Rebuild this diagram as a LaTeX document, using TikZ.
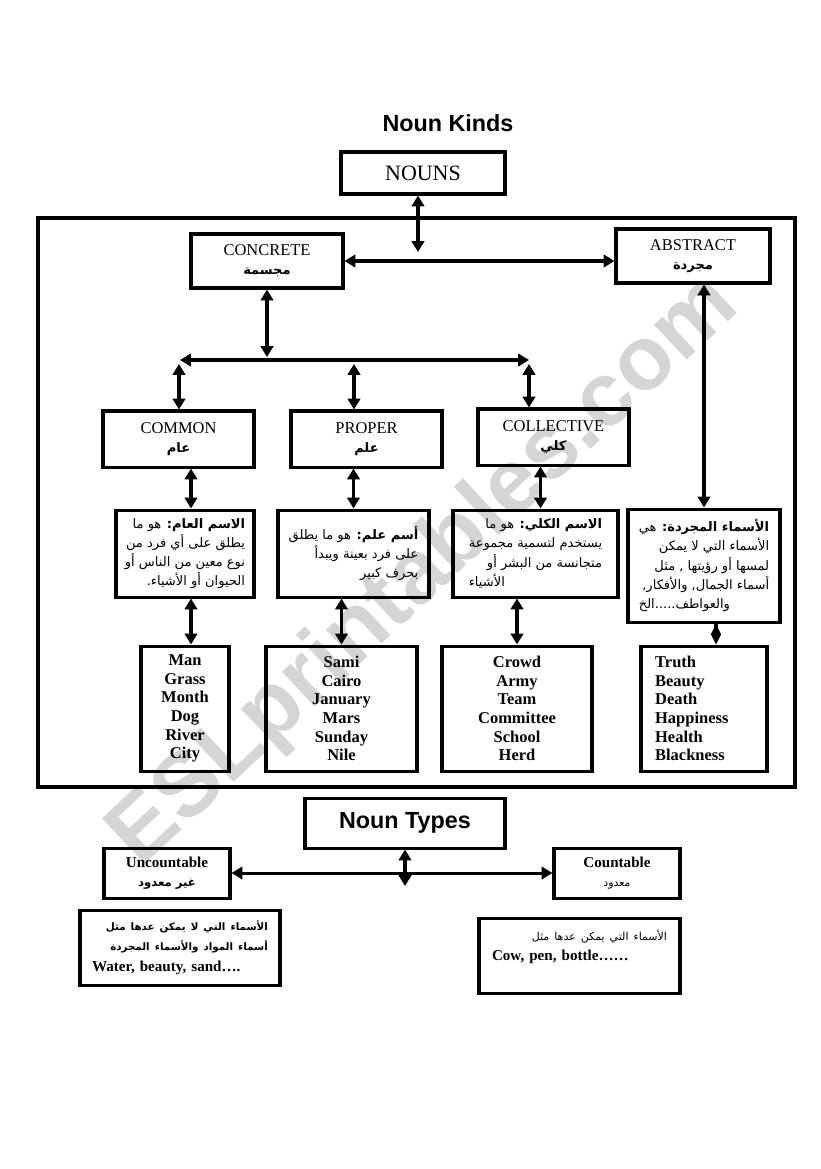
\documentclass[tikz,border=0pt]{standalone}
\usepackage{fontspec}
\setmainfont{Liberation Serif}
\newfontfamily\arialfont{Liberation Sans}
\newfontfamily\arabicfont[Script=Arabic]{DejaVu Sans}
\TeXXeTstate=1
\usetikzlibrary{positioning,arrows.meta,calc}
\newcommand{\arl}[1]{{\arabicfont\beginR #1\endR}}
\newcommand{\arcat}[1]{{\arabicfont\bfseries\fontsize{9.5}{14}\selectfont\beginR #1\endR}}
\tikzset{
  box/.style={draw, line width=2.2pt, inner sep=0pt, align=center},
  boxsize/.style 2 args={minimum width=#1*0.0256cm, minimum height=#2*0.0256cm},
  catbox/.style={box, font=\fontsize{12}{14}\selectfont},
  defbox/.style={box, align=right, font=\arabicfont\fontsize{9.5}{14}\selectfont},
  exbox/.style={box, font=\bfseries\fontsize{12}{13.6}\selectfont},
  headline/.style={font=\arialfont\bfseries\fontsize{17}{19}\selectfont},
  dbl/.style={{Triangle[width=3.2mm,length=2.8mm]}-{Triangle[width=3.2mm,length=2.8mm]}, line width=2.2pt},
  diam/.style={-{Diamond[width=2.6mm,length=5.2mm]}, line width=2.2pt},
  frame/.style={draw, line width=2.4pt}
}
\begin{document}
\begin{tikzpicture}[x=0.0256cm, y=-0.0256cm]
  \useasboundingbox (0,0) rectangle (821,1169);
  % watermark
  \node[rotate=43, font=\arialfont\bfseries\fontsize{66}{70}\selectfont, text=gray!33] (mark) at (425,572) {ESLprintables.com};

  \node[headline] (title) at (448,123) {Noun Kinds};
  \node[box, boxsize={164}{42}, font=\fontsize{16}{18}\selectfont] (nouns) at (423,173) {NOUNS};
  \draw[frame] (38,218) rectangle (795,787);

  % kinds
  \node[catbox, boxsize={152}{54}] (concrete) at (267,261) {CONCRETE\\\arcat{مجسمة}};
  \node[catbox, boxsize={154}{54}] (abstract) at (693,256) {ABSTRACT\\\arcat{مجردة}};
  \node[catbox, boxsize={151}{56}] (common) at (178.5,439) {COMMON\\\arcat{عام}};
  \node[catbox, boxsize={151}{56}] (proper) at (366.5,439) {PROPER\\\arcat{علم}};
  \node[catbox, boxsize={151}{56}] (collective) at (553.5,437) {COLLECTIVE\\\arcat{كلي}};

  % definitions
  \node[defbox, boxsize={138}{87}] (commondef) at (185,553.5) {\arl{\textbf{الاسم العام:} هو ما}\\\arl{يطلق على أي فرد من}\\\arl{نوع معين من الناس أو}\\\arl{الحيوان أو الأشياء.}};
  \node[defbox, boxsize={151}{87}] (properdef) at (353.5,553.5) {\arl{\textbf{أسم علم:} هو ما يطلق}\\\arl{على فرد بعينة ويبدأ}\\\arl{بحرف كبير}};
  \node[defbox, boxsize={165}{87}] (colldef) at (535.5,553.5) {\arl{\textbf{الاسم الكلي:} هو ما}\\\arl{يستخدم لتسمية مجموعة}\\\arl{متجانسة من البشر أو}\\\arl{الأشياء}\hspace*{\fill}};
  \node[defbox, boxsize={152}{113}] (absdef) at (704,565.5) {\arl{\textbf{الأسماء المجردة:} هي}\\\arl{الأسماء التي لا يمكن}\\\arl{لمسها أو رؤيتها , مثل}\\\arl{أسماء الجمال, والأفكار,}\\\arl{والعواطف.....الخ}\hspace*{\fill}};

  % examples
  \node[exbox, boxsize={88}{125}] (manex) at (185,708.5) {Man\\Grass\\Month\\Dog\\River\\City};
  \node[exbox, boxsize={151}{125}] (samiex) at (341.5,708.5) {Sami\\Cairo\\January\\Mars\\Sunday\\Nile};
  \node[exbox, boxsize={150}{125}] (crowdex) at (517,708.5) {Crowd\\Army\\Team\\Committee\\School\\Herd};
  \node[exbox, boxsize={126}{125}, align=left, text width=2.5cm] (truthex) at (704,708.5) {Truth\\Beauty\\Death\\Happiness\\Health\\Blackness};

  \coordinate (drop) at (418,252);
  \coordinate (hub) at (267,357);
  \coordinate (splitL) at (180,360);
  \coordinate (splitR) at (529,360);
  \coordinate (legA) at (179,364);
  \coordinate (legB) at (354,364);
  \coordinate (legC) at (529,364);

  \draw[dbl] (nouns.south -| drop) -- (drop);
  \draw[dbl] (concrete.east) -- (concrete.east -| abstract.west);
  \draw[dbl] (concrete.south) -- (hub);
  \draw[dbl] (splitL) -- (splitR);
  \draw[dbl] (legA) -- (common.north -| legA);
  \draw[dbl] (legB) -- (proper.north -| legB);
  \draw[dbl] (legC) -- (collective.north -| legC);
  \draw[dbl] (abstract.south -| absdef.north) -- (absdef.north);
  \draw[dbl] ($(common.south -| commondef.north)+(6,0)$) -- ($(commondef.north)+(6,0)$);
  \draw[dbl] (proper.south -| properdef.north) -- (properdef.north);
  \draw[dbl] ($(collective.south -| colldef.north)+(5,0)$) -- ($(colldef.north)+(5,0)$);
  \draw[dbl] ($(commondef.south)+(6,0)$) -- ($(manex.north)+(6,0)$);
  \draw[dbl] (properdef.south -| samiex.north) -- (samiex.north);
  \draw[dbl] (colldef.south -| crowdex.north) -- (crowdex.north);
  \draw[diam] ($(absdef.south)+(12,0)$) -- ($(truthex.north)+(12,0)$);

  % types
  \node[box, boxsize={200}{50}, headline] (types) at (405,823) {Noun Types};
  \node[catbox, boxsize={126}{50}, font=\bfseries\fontsize{11}{14}\selectfont] (uncount) at (167,873) {Uncountable\\\arl{\fontsize{8.5}{14}\selectfont غير معدود}};
  \node[catbox, boxsize={126}{50}, font=\bfseries\fontsize{11}{14}\selectfont] (count) at (617,873) {Countable\\\arl{\mdseries\fontsize{8}{14}\selectfont معدود}};
  \node[box, boxsize={200}{75}, align=left, text width=4.5cm, font=\bfseries\fontsize{11}{15}\selectfont] (uncdef) at (180,947.5) {\hspace*{\fill}\arl{\fontsize{7.5}{15}\selectfont الأسماء التي لا يمكن عدها مثل}\\\hspace*{\fill}\arl{\fontsize{7.5}{15}\selectfont أسماء المواد والأسماء المجردة}\\Water, beauty, sand….};
  \node[box, boxsize={201}{75}, align=left, text width=4.48cm, font=\bfseries\fontsize{11}{15}\selectfont] (cdef) at (579.5,955.5) {\hspace*{\fill}\arl{\mdseries\fontsize{8}{15}\selectfont الأسماء التي يمكن عدها مثل}\\Cow, pen, bottle……\\\mbox{}};

  \coordinate (tdrop) at (405,886);
  \draw[dbl] (types.south) -- (tdrop);
  \draw[dbl] (uncount.east) -- (count.west);
\end{tikzpicture}
\end{document}
